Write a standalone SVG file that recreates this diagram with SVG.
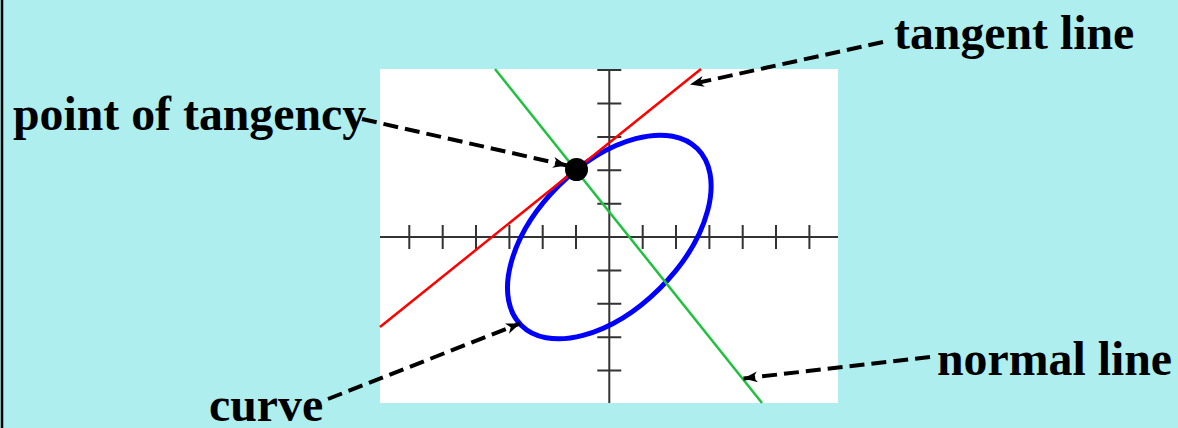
<svg xmlns="http://www.w3.org/2000/svg" width="1178" height="428" viewBox="0 0 1178 428">
<style>
.lbl{font-family:"Liberation Serif","Times New Roman",serif;font-weight:bold;font-size:47.8px;fill:#000}
.axis{stroke:#333;stroke-width:2;fill:none}
.conn{stroke:#000;stroke-width:4;stroke-dasharray:15 7;fill:none}
</style>
<defs>
<marker id="ah" viewBox="-14 -6 15 12" refX="0" refY="0" markerWidth="15" markerHeight="12" markerUnits="userSpaceOnUse" orient="auto">
<path d="M0,0 L-14,-5.5 L-10,0 L-14,5.5 Z" fill="#000"/>
</marker>
</defs>
<rect x="0" y="0" width="1178" height="428" fill="#AFEEEE"/>
<line x1="2" y1="0" x2="2" y2="428" stroke="#000" stroke-width="2.5"/>
<g id="plot">
<rect x="380" y="69" width="458" height="334" fill="#fff"/>
<g class="axis">
<line x1="380" y1="237" x2="838" y2="237"/>
<line x1="609.3" y1="69" x2="609.3" y2="403"/>
<path d="M409.3,225V249M442.7,225V249M476,225V249M509.4,225V249M542.7,225V249M576,225V249M642.7,225V249M676,225V249M709.4,225V249M742.7,225V249M776,225V249M809.4,225V249"/>
<path d="M597.3,70H621.3M597.3,103.5H621.3M597.3,136.9H621.3M597.3,170.3H621.3M597.3,203.7H621.3M597.3,270.4H621.3M597.3,303.8H621.3M597.3,337.2H621.3M597.3,370.6H621.3"/>
</g>
</g>
<g id="curve">
<ellipse cx="609.3" cy="237" rx="124.7" ry="72" transform="rotate(-45 609.3 237)" fill="none" stroke="#0000ff" stroke-width="5"/>
</g>
<g id="tangent">
<line x1="380" y1="327" x2="701" y2="69" stroke="#ff0000" stroke-width="2.5"/>
</g>
<g id="normal">
<line x1="495" y1="69" x2="762" y2="403" stroke="#20c040" stroke-width="2.5"/>
</g>
<g id="connectors">
<line class="conn" x1="883" y1="42" x2="690" y2="84.5" marker-end="url(#ah)"/>
<line class="conn" x1="362" y1="119" x2="567" y2="165.5" marker-end="url(#ah)"/>
<line class="conn" x1="328" y1="399" x2="520" y2="323.5" marker-end="url(#ah)"/>
<line class="conn" x1="930" y1="357" x2="743.5" y2="378.5" marker-end="url(#ah)"/>
</g>
<g id="point">
<circle cx="576.5" cy="169.5" r="11.5" fill="#000"/>
</g>
<g id="label-tangency"><text class="lbl" x="13" y="130">point of tangency</text></g>
<g id="label-tangent"><text class="lbl" x="894" y="49">tangent line</text></g>
<g id="label-normal"><text class="lbl" x="937" y="375">normal line</text></g>
<g id="label-curve"><text class="lbl" x="209" y="421">curve</text></g>
</svg>
